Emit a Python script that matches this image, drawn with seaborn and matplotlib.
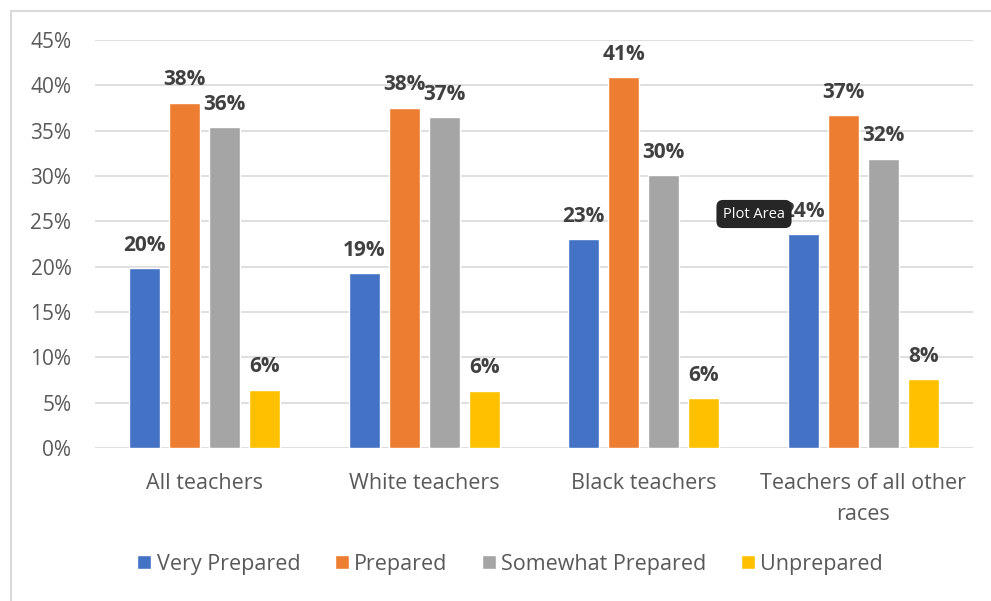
import matplotlib
matplotlib.use("Agg")
import matplotlib.pyplot as plt
import seaborn as sns
import pandas as pd
from matplotlib.patches import Rectangle

categories = ["All teachers", "White teachers", "Black teachers", "Teachers of all other\nraces"]
series = ["Very Prepared", "Prepared", "Somewhat Prepared", "Unprepared"]
very_prepared = [0.198, 0.193, 0.230, 0.236]
prepared = [0.381, 0.375, 0.409, 0.367]
somewhat_prepared = [0.354, 0.365, 0.301, 0.319]
unprepared = [0.064, 0.063, 0.055, 0.076]
labels = [["20%", "19%", "23%", "24%"],
          ["38%", "38%", "41%", "37%"],
          ["36%", "37%", "30%", "32%"],
          ["6%", "6%", "6%", "8%"]]
yticks = [0, 0.05, 0.10, 0.15, 0.20, 0.25, 0.30, 0.35, 0.40, 0.45]
colors = ["#4472C4", "#ED7D31", "#A5A5A5", "#FFC000"]

rows = []
for s, vals in zip(series, [very_prepared, prepared, somewhat_prepared, unprepared]):
    for c, v in zip(categories, vals):
        rows.append({"Category": c, "Series": s, "Value": v})
df = pd.DataFrame(rows)

sns.set_style("white")
plt.rcParams["font.family"] = ["Open Sans", "DejaVu Sans"]

fig = plt.figure(figsize=(9.91, 6.01), dpi=100)
ax = fig.add_axes([95/991, 1-448/601, (973-95)/991, (448-40)/601])

sns.barplot(data=df, x="Category", y="Value", hue="Series", hue_order=series,
            order=categories, palette=colors, width=0.73, gap=0.22,
            saturation=1, ax=ax, legend=True, errorbar=None)

ax.set_xlim(-0.5, 3.5)
ax.set_ylim(0, 0.45)
ax.set_yticks(yticks)
ax.set_yticklabels([f"{int(round(t*100))}%" for t in yticks], fontsize=15, color="#595959")
for t in ax.get_xticklabels():
    t.set_linespacing(1.64)
ax.tick_params(axis="x", labelsize=15.5, labelcolor="#595959", length=0, pad=18)
ax.tick_params(axis="y", length=0, pad=17)
ax.set_xlabel("")
ax.set_ylabel("")
ax.grid(axis="y", color="#d9d9d9", linewidth=1.2)
ax.set_axisbelow(True)
for sp in ax.spines.values():
    sp.set_visible(False)

for cont, labs in zip(ax.containers, labels):
    for bar, lab in zip(cont, labs):
        ax.annotate(lab, (bar.get_x() + bar.get_width()/2, bar.get_height()),
                    xytext=(0, 9), textcoords="offset points", ha="center", va="bottom",
                    fontsize=15, fontweight="bold", color="#404040")

leg = ax.legend(loc="center", bbox_to_anchor=(0.473, -0.285), ncol=4, frameon=False,
                fontsize=15.5, handlelength=0.65, handleheight=0.65, handletextpad=0.25,
                columnspacing=1.6, labelcolor="#595959")

fig.patches.append(Rectangle((11/991, -0.01), 1.0, 1-11/601+0.01, transform=fig.transFigure,
                             fill=False, edgecolor="#d9d9d9", linewidth=1.5))

fig.text(754/991, 1-214/601, "Plot Area", ha="center", va="center", fontsize=10.5,
         color="white", bbox=dict(boxstyle="round,pad=0.45", facecolor="#262626", edgecolor="none"))

fig.savefig("out.png", dpi=100)
